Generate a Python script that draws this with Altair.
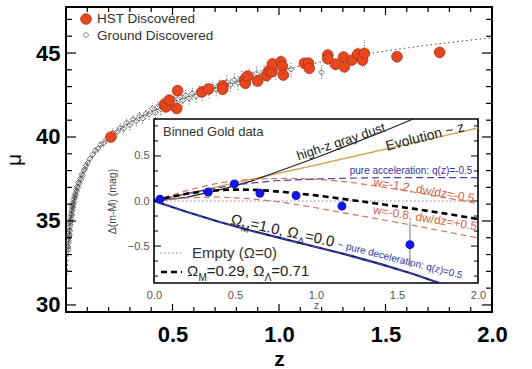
import math
import altair as alt
import pandas as pd

FONT = "Liberation Sans"

# ---------------- Hubble diagram data ----------------
# Ground-discovered SNe Ia: redshift, distance modulus, 1-sigma error
g_z = [0.0105, 0.0118, 0.0124, 0.0137, 0.0142, 0.0153, 0.0160, 0.0166, 0.0175, 0.0184,
       0.0191, 0.0203, 0.0212, 0.0220, 0.0231, 0.0244, 0.0253, 0.0265, 0.0271, 0.0284,
       0.0296, 0.0308, 0.0322, 0.0335, 0.0350, 0.0366, 0.0381, 0.0398, 0.0415, 0.0432,
       0.0455, 0.0478, 0.0502, 0.0527, 0.0556, 0.0589, 0.0624, 0.0660, 0.0702, 0.0745,
       0.0790, 0.0838, 0.0890, 0.0950, 0.1010,
       0.112, 0.125, 0.138, 0.150, 0.162, 0.175, 0.190, 0.205, 0.220, 0.240,
       0.255, 0.270, 0.285, 0.300, 0.315, 0.330, 0.345, 0.360, 0.375, 0.390,
       0.405, 0.420, 0.430, 0.445, 0.455, 0.465, 0.478, 0.490, 0.505, 0.520,
       0.535, 0.548, 0.562, 0.578, 0.593, 0.610, 0.625, 0.640, 0.655, 0.672,
       0.688, 0.705, 0.720, 0.738, 0.755, 0.772, 0.790, 0.808, 0.825, 0.842,
       0.860, 0.878, 0.895, 0.912, 0.930, 0.948, 0.965, 0.985, 1.056, 1.200]
g_mu = [33.45, 33.30, 33.85, 33.70, 34.15, 34.05, 34.45, 34.20, 34.62, 34.40,
        34.90, 34.75, 35.05, 34.95, 35.30, 35.15, 35.42, 35.60, 35.35, 35.78,
        35.62, 35.90, 35.80, 36.08, 36.00, 36.28, 36.15, 36.45, 36.38, 36.62,
        36.55, 36.85, 36.78, 37.05, 36.98, 37.30, 37.22, 37.52, 37.45, 37.78,
        37.70, 38.02, 38.10, 38.30, 38.45,
        38.70, 38.95, 39.20, 39.30, 39.55, 39.62, 39.85, 39.95, 40.25, 40.30,
        40.55, 40.50, 40.85, 40.70, 41.05, 40.95, 41.25, 41.10, 41.40, 41.35,
        41.70, 41.45, 41.80, 41.65, 42.00, 41.78, 42.12, 41.92, 42.25, 42.05,
        42.38, 42.18, 42.48, 42.30, 42.60, 42.42, 42.75, 42.55, 42.88, 42.68,
        43.00, 42.82, 43.12, 42.95, 43.28, 43.10, 43.40, 43.22, 43.52, 43.35,
        43.65, 43.48, 43.78, 43.60, 43.90, 43.72, 44.05, 43.85, 44.03, 43.85]
g_err = [0.30, 0.28, 0.27, 0.26, 0.25, 0.24, 0.23, 0.23, 0.22, 0.21,
         0.21, 0.20, 0.20, 0.19, 0.19, 0.18, 0.18, 0.18, 0.17, 0.17,
         0.17, 0.17, 0.16, 0.16, 0.16, 0.16, 0.16, 0.15, 0.15, 0.15,
         0.15, 0.15, 0.15, 0.15, 0.15, 0.15, 0.15, 0.15, 0.15, 0.15,
         0.16, 0.16, 0.16, 0.17, 0.17,
         0.20, 0.20, 0.22, 0.22, 0.24, 0.24, 0.25, 0.26, 0.26, 0.27,
         0.27, 0.28, 0.28, 0.29, 0.29, 0.30, 0.30, 0.31, 0.31, 0.32,
         0.32, 0.33, 0.33, 0.34, 0.34, 0.34, 0.35, 0.35, 0.35, 0.36,
         0.36, 0.36, 0.37, 0.37, 0.37, 0.38, 0.38, 0.38, 0.39, 0.39,
         0.39, 0.40, 0.40, 0.40, 0.41, 0.41, 0.41, 0.42, 0.42, 0.42,
         0.43, 0.43, 0.43, 0.44, 0.44, 0.44, 0.45, 0.45, 0.45, 0.40]

# HST-discovered SNe Ia
h_z = [0.211, 0.461, 0.470, 0.485, 0.520, 0.524, 0.638, 0.669, 0.736, 0.736,
       0.838, 0.842, 0.853, 0.900, 0.941, 0.954, 0.967, 0.969, 1.009, 1.016,
       1.020, 1.119, 1.138, 1.142, 1.229, 1.229, 1.265, 1.303, 1.307, 1.342,
       1.370, 1.392, 1.401, 1.554, 1.754]
h_mu = [40.00, 41.93, 41.80, 42.20, 41.70, 42.76, 42.68, 42.86, 43.04, 42.84,
        43.39, 43.20, 43.63, 43.33, 43.66, 43.95, 43.89, 44.35, 44.48, 44.20,
        43.69, 44.39, 44.40, 44.09, 44.88, 44.66, 44.33, 44.76, 44.18, 44.58,
        44.94, 44.58, 44.98, 44.78, 45.04]
h_err = [0.20, 0.25, 0.25, 0.25, 0.25, 0.25, 0.25, 0.25, 0.25, 0.25,
         0.25, 0.25, 0.30, 0.30, 0.30, 0.30, 0.30, 0.30, 0.40, 0.30,
         0.30, 0.30, 0.30, 0.30, 0.35, 0.35, 0.35, 0.35, 0.35, 0.35,
         0.40, 0.40, 0.80, 0.35, 0.30]

# Reference cosmology curve (dotted)
curve_z = [0.005, 0.01, 0.02, 0.03, 0.05, 0.075, 0.1, 0.15, 0.2, 0.3, 0.4, 0.5, 0.6,
           0.7, 0.8, 0.9, 1.0, 1.1, 1.2, 1.3, 1.4, 1.5, 1.6, 1.7, 1.8, 1.9, 2.0]
curve_mu = [31.8, 33.3, 34.85, 35.75, 36.9, 37.8, 38.4, 39.3, 40.0, 40.9, 41.5, 42.05, 42.5,
            42.9, 43.25, 43.6, 43.95, 44.22, 44.47, 44.7, 44.92, 45.12, 45.3, 45.47, 45.62,
            45.77, 45.9]

# Axis ticks of the Hubble diagram
x_labels = [0.5, 1.0, 1.5, 2.0]
x_minor = [0.1, 0.2, 0.3, 0.4, 0.6, 0.7, 0.8, 0.9, 1.1, 1.2, 1.3, 1.4, 1.6, 1.7, 1.8, 1.9]
x_major = [0.5, 1.0, 1.5]
y_labels = [30, 35, 40, 45]
y_minor = [31, 32, 33, 34, 36, 37, 38, 39, 41, 42, 43, 44, 46, 47]
y_major = [30, 35, 40, 45]

# ---------------- Inset: binned residuals vs empty universe ----------------
bin_z = [0.037, 0.335, 0.496, 0.654, 0.877, 1.160, 1.580]
bin_d = [0.02, 0.10, 0.19, 0.085, 0.06, -0.056, -0.485]
bin_e = [0.02, 0.03, 0.04, 0.04, 0.05, 0.05, 0.255]

empty_z = [0.0, 2.0]
empty_d = [0.0, 0.0]
lcdm_z = [0, 0.1, 0.2, 0.3, 0.4, 0.5, 0.6, 0.7, 0.8, 0.9, 1.0, 1.2, 1.4, 1.6, 1.8, 2.0]
lcdm_d = [0, 0.045, 0.08, 0.105, 0.12, 0.127, 0.125, 0.115, 0.1, 0.082, 0.062, 0.015,
          -0.035, -0.085, -0.14, -0.2]
eds_z = [0, 0.2, 0.4, 0.6, 0.8, 1.0, 1.2, 1.4, 1.6, 1.76]
eds_d = [0, -0.12, -0.23, -0.33, -0.42, -0.51, -0.6, -0.7, -0.81, -0.91]
acc_z = [0, 0.25, 0.5, 0.75, 1.0, 1.25, 1.5, 1.75, 2.0]
acc_d = [0, 0.1, 0.18, 0.225, 0.245, 0.255, 0.26, 0.26, 0.26]
evo_z = [0, 1.0, 2.0]
evo_d = [0, 0.4, 0.81]
dust_z = [0, 0.2, 0.4, 0.6, 0.8, 1.0, 1.2, 1.4, 1.6]
dust_d = [0, 0.04, 0.12, 0.22, 0.35, 0.48, 0.62, 0.76, 0.91]
w12_z = [0, 0.1, 0.2, 0.3, 0.4, 0.5, 0.6, 0.7, 0.8, 0.9, 1.0, 1.1, 1.2, 1.4, 1.6, 1.8, 2.0]
w12_d = [0, 0.06, 0.115, 0.16, 0.2, 0.225, 0.24, 0.248, 0.25, 0.248, 0.24, 0.228, 0.21,
         0.16, 0.1, 0.035, -0.03]
w08_z = [0, 0.2, 0.4, 0.6, 0.8, 1.0, 1.2, 1.4, 1.6, 1.8, 2.0]
w08_d = [0, 0.035, 0.045, 0.025, -0.015, -0.075, -0.14, -0.205, -0.27, -0.34, -0.41]

in_x_labels = [0.0, 0.5, 1.0, 1.5, 2.0]
in_y_labels = [-0.5, 0.0, 0.5]
in_y_major = [-0.5, 0.0, 0.5]
in_y_minor = [-0.8333, -0.6667, -0.3333, -0.1667, 0.1667, 0.3333, 0.6667, 0.8333]

# ---------------- layout ----------------
W, H = 426, 305
IN_LEFT, IN_RIGHT, IN_BOTTOM, IN_TOP = 88, 412, 276, 112
IN_XDOM = [0.0, 2.0]
IN_YDOM = [-0.91, 0.91]

xs = alt.Scale(domain=[0, 2], nice=False, zero=False)
ys = alt.Scale(domain=[29.58, 47.74], nice=False, zero=False)
ixs = alt.Scale(domain=IN_XDOM, range=[IN_LEFT, IN_RIGHT], nice=False, zero=False)
iys = alt.Scale(domain=IN_YDOM, range=[IN_BOTTOM, IN_TOP], nice=False, zero=False)

XAXIS = alt.Axis(values=x_labels, format=".1f", ticks=False, domain=False, grid=False,
                 labelFont=FONT, labelFontSize=22, labelFontWeight="bold", labelColor="black",
                 labelPadding=12, labelFlush=False, title="z", titleFont=FONT,
                 titleFontSize=21, titleFontWeight="bold", titleColor="black",
                 titleBaseline="alphabetic", titleY=53)
YAXIS = alt.Axis(values=y_labels, format="d", ticks=False, domain=False, grid=False,
                 labelFont=FONT, labelFontSize=22, labelFontWeight="bold", labelColor="black",
                 labelPadding=6, labelFlush=False, title="μ", titleFont=FONT,
                 titleFontSize=21, titleFontWeight="normal", titleColor="black",
                 titleAngle=270, titlePadding=11)
IXAXIS = alt.Axis(orient="bottom", offset=-(H - IN_BOTTOM), values=in_x_labels, format=".1f",
                  ticks=False, domain=False, grid=False, labelFont=FONT, labelFontSize=11,
                  labelColor="#555", labelPadding=6, labelFlush=False, title="z",
                  titleFont=FONT, titleFontSize=10, titleFontWeight="normal",
                  titleColor="#555", titlePadding=0)
IYAXIS = alt.Axis(orient="left", offset=-IN_LEFT, values=in_y_labels, format=".1f",
                  ticks=False, domain=False, grid=False, labelFont=FONT, labelFontSize=11,
                  labelColor="#555", labelPadding=5, labelFlush=False, title="Δ(m-M) (mag)",
                  titleFont=FONT, titleFontSize=10.5, titleFontWeight="normal",
                  titleColor="#444", titlePadding=10)


def X(f):
    return alt.X(f, type="quantitative", scale=xs, axis=XAXIS)


def Y(f):
    return alt.Y(f, type="quantitative", scale=ys, axis=YAXIS)


def IX(f):
    return alt.X(f, type="quantitative", scale=ixs, axis=IXAXIS)


def IY(f):
    return alt.Y(f, type="quantitative", scale=iys, axis=IYAXIS)


# ---------------- main Hubble diagram ----------------
ground = pd.DataFrame({"z": g_z, "mu": g_mu,
                       "lo": [m - e for m, e in zip(g_mu, g_err)],
                       "hi": [m + e for m, e in zip(g_mu, g_err)]})
hst = pd.DataFrame({"z": h_z, "mu": h_mu,
                    "lo": [m - e for m, e in zip(h_mu, h_err)],
                    "hi": [m + e for m, e in zip(h_mu, h_err)]})
curve = pd.DataFrame({"z": curve_z, "mu": curve_mu})

main_layers = [
    alt.Chart(curve).mark_line(color="#444", strokeWidth=1, strokeDash=[1.5, 3]).encode(
        x=X("z"), y=Y("mu")),
    alt.Chart(ground).mark_rule(color="#333", strokeWidth=0.8, strokeDash=[1, 1.6]).encode(
        x=X("z"), y=Y("lo"), y2="hi"),
    alt.Chart(ground).mark_point(shape="diamond", filled=False, color="#555", size=30,
                                 strokeWidth=0.8, opacity=1).encode(x=X("z"), y=Y("mu")),
    alt.Chart(hst).mark_rule(color="#444", strokeWidth=0.8, strokeDash=[1, 1.6]).encode(
        x=X("z"), y=Y("lo"), y2="hi"),
    alt.Chart(hst).mark_point(shape="circle", filled=True, fill="#e8461d", stroke="#a8351a",
                              strokeWidth=0.8, size=115, opacity=1).encode(
        x=X("z"), y=Y("mu")),
]


def tick_df(vals):
    return pd.DataFrame({"v": vals})


# inward ticks on all four sides of the frame
for vals, ln in ((x_minor, 5), (x_major, 8)):
    main_layers.append(alt.Chart(tick_df(vals)).mark_rule(color="black", strokeWidth=1.2).encode(
        x=X("v"), y=alt.value(H), y2=alt.value(H - ln)))
    main_layers.append(alt.Chart(tick_df(vals)).mark_rule(color="black", strokeWidth=1.2).encode(
        x=X("v"), y=alt.value(0), y2=alt.value(ln)))
for vals, ln in ((y_minor, 6), (y_major, 10)):
    main_layers.append(alt.Chart(tick_df(vals)).mark_rule(color="black", strokeWidth=1.2).encode(
        y=Y("v"), x=alt.value(0), x2=alt.value(ln)))
    main_layers.append(alt.Chart(tick_df(vals)).mark_rule(color="black", strokeWidth=1.2).encode(
        y=Y("v"), x=alt.value(W), x2=alt.value(W - ln)))

main = alt.layer(*main_layers)

# ---------------- inset ----------------
frame = pd.DataFrame({"x0": [IN_XDOM[0]], "x1": [IN_XDOM[1]], "y0": [IN_YDOM[0]], "y1": [IN_YDOM[1]]})
inset_layers = [
    alt.Chart(frame).mark_rect(fill="white", stroke="black", strokeWidth=1.6).encode(
        x=IX("x0"), x2="x1", y=IY("y0"), y2="y1"),
]
for vals, ln in ((in_y_minor, 4), (in_y_major, 7)):
    inset_layers.append(alt.Chart(tick_df(vals)).mark_rule(color="black", strokeWidth=1).encode(
        y=IY("v"), x=alt.value(IN_LEFT), x2=alt.value(IN_LEFT + ln)))
    inset_layers.append(alt.Chart(tick_df(vals)).mark_rule(color="black", strokeWidth=1).encode(
        y=IY("v"), x=alt.value(IN_RIGHT), x2=alt.value(IN_RIGHT - ln)))

model_styles = [
    (empty_z, empty_d, dict(color="#888", strokeWidth=1, strokeDash=[1.5, 2.5])),
    (evo_z, evo_d, dict(color="#d9a65e", strokeWidth=1.4)),
    (dust_z, dust_d, dict(color="#222", strokeWidth=1.2)),
    (w12_z, w12_d, dict(color="#d9735b", strokeWidth=1.2, strokeDash=[6, 4])),
    (w08_z, w08_d, dict(color="#d9735b", strokeWidth=1.2, strokeDash=[6, 4])),
    (acc_z, acc_d, dict(color="#3d3db8", strokeWidth=1.2, strokeDash=[7, 4])),
    (eds_z, eds_d, dict(color="#1c1c66", strokeWidth=2.2)),
    (eds_z, eds_d, dict(color="#4a4ac8", strokeWidth=1.0, strokeDash=[7, 4])),
    (lcdm_z, lcdm_d, dict(color="black", strokeWidth=2.6, strokeDash=[6, 4])),
]
for zz, dd, style in model_styles:
    inset_layers.append(alt.Chart(pd.DataFrame({"z": zz, "d": dd})).mark_line(**style).encode(
        x=IX("z"), y=IY("d")))

binned = pd.DataFrame({"z": bin_z, "d": bin_d,
                       "lo": [d - e for d, e in zip(bin_d, bin_e)],
                       "hi": [d + e for d, e in zip(bin_d, bin_e)]})
inset_layers.append(alt.Chart(binned).mark_rule(color="#777", strokeWidth=1).encode(
    x=IX("z"), y=IY("lo"), y2="hi"))
inset_layers.append(alt.Chart(binned).mark_point(shape="circle", filled=True, color="#1515e0",
                                                 size=80, opacity=1).encode(x=IX("z"), y=IY("d")))

inset = alt.layer(*inset_layers)

# ---------------- annotations (pixel positions inside the plot area) ----------------
EM = {"Ω": 0.768, "Λ": 0.667, "M": 0.833, "=": 0.584, ",": 0.278, ".": 0.278, " ": 0.278}


def em_width(s):
    return sum(EM.get(c, 0.556) for c in s)


def rich(parts, x0, y0, size, sub_size, color, angle=0.0):
    th = math.radians(angle)
    ux, uy = math.cos(th), math.sin(th)
    dx, dy = -math.sin(th), math.cos(th)
    rows, pos = [], 0.0
    for txt, sub in parts:
        fs = sub_size if sub else size
        drop = size * 0.3 if sub else 0.0
        rows.append({"x": x0 + ux * pos + dx * drop, "y": y0 + uy * pos + dy * drop,
                     "text": txt, "size": fs, "angle": angle % 360, "color": color})
        pos += em_width(txt) * fs
    return rows


OX, OY = 66, 7  # plot-area origin in the page
piece_rows = []
piece_rows += rich([("Ω", False), ("M", True), ("=1.0, Ω", False), ("Λ", True), ("=0.0", False)],
                   230 - OX, 224 - OY, 15, 10, "#222", 12.5)
piece_rows += rich([("Empty (Ω=0)", False)], 192 - OX, 258 - OY, 15, 10, "#333")
piece_rows += rich([("Ω", False), ("M", True), ("=0.29, Ω", False), ("Λ", True), ("=0.71", False)],
                   187 - OX, 276 - OY, 15, 10, "#222")
piece_rows += rich([("Binned Gold data", False)], 163 - OX, 136 - OY, 13, 9, "#333")
piece_rows += rich([("HST Discovered", False)], 97 - OX, 23 - OY, 13.5, 9, "#333")
piece_rows += rich([("Ground Discovered", False)], 97 - OX, 40 - OY, 13.5, 9, "#333")
pieces = pd.DataFrame(piece_rows)

centered = pd.DataFrame([
    {"x": 341 - OX, "y": 142 - OY, "text": "high-z gray dust", "size": 13, "angle": 341.5, "color": "#222"},
    {"x": 425 - OX, "y": 137 - OY, "text": "Evolution ~ z", "size": 14, "angle": 345.7, "color": "#222"},
    {"x": 411 - OX, "y": 171 - OY, "text": "pure acceleration: q(z)=-0.5", "size": 10, "angle": 0, "color": "#3535a5"},
    {"x": 424 - OX, "y": 190 - OY, "text": "w=-1.2, dw/dz=-0.5", "size": 12, "angle": 9.6, "color": "#d0654e"},
    {"x": 425 - OX, "y": 218 - OY, "text": "w=-0.8, dw/dz=+0.5", "size": 12, "angle": 9.2, "color": "#d0654e"},
    {"x": 400 - OX, "y": 260 - OY, "text": "~ pure deceleration: q(z)=0.5", "size": 10, "angle": 14.2, "color": "#3535a5"},
])

PX = alt.X("x:Q", scale=None, axis=None)
PY = alt.Y("y:Q", scale=None, axis=None)
ann_common = dict(text="text:N", size=alt.Size("size:Q", scale=None, legend=None),
                  angle=alt.Angle("angle:Q", scale=None),
                  color=alt.Color("color:N", scale=None, legend=None))

one = pd.DataFrame({"k": [0]})
annotations = alt.layer(
    alt.Chart(pieces).mark_text(font=FONT, align="left", baseline="alphabetic").encode(
        x=PX, y=PY, **ann_common),
    alt.Chart(centered).mark_text(font=FONT, align="center", baseline="middle").encode(
        x=PX, y=PY, **ann_common),
    # line samples for the inset key
    alt.Chart(one).mark_rule(color="#777", strokeWidth=1.2, strokeDash=[1.5, 2.5]).encode(
        x=alt.value(160 - OX), x2=alt.value(181 - OX), y=alt.value(253 - OY)),
    alt.Chart(one).mark_rule(color="black", strokeWidth=2.6, strokeDash=[6, 4]).encode(
        x=alt.value(161 - OX), x2=alt.value(182 - OX), y=alt.value(272 - OY)),
    # symbols for the main key
    alt.Chart(one).mark_point(shape="circle", filled=True, fill="#e8461d", stroke="#a8351a",
                              strokeWidth=0.8, size=115, opacity=1).encode(
        x=alt.value(86 - OX), y=alt.value(19 - OY)),
    alt.Chart(one).mark_point(shape="diamond", filled=False, color="#555", size=30,
                              strokeWidth=0.8, opacity=1).encode(
        x=alt.value(86 - OX), y=alt.value(35 - OY)),
)

chart = alt.layer(main, inset, annotations).resolve_scale(
    x="independent", y="independent"
).properties(
    width=W, height=H,
    padding={"left": OX, "top": OY, "right": 532 - OX - W, "bottom": 369 - OY - H},
    autosize=alt.AutoSizeParams(type="none"),
    background="white",
).configure_view(stroke="black", strokeWidth=2)

chart.save("out.html", embed_options={"renderer": "svg", "actions": False})
